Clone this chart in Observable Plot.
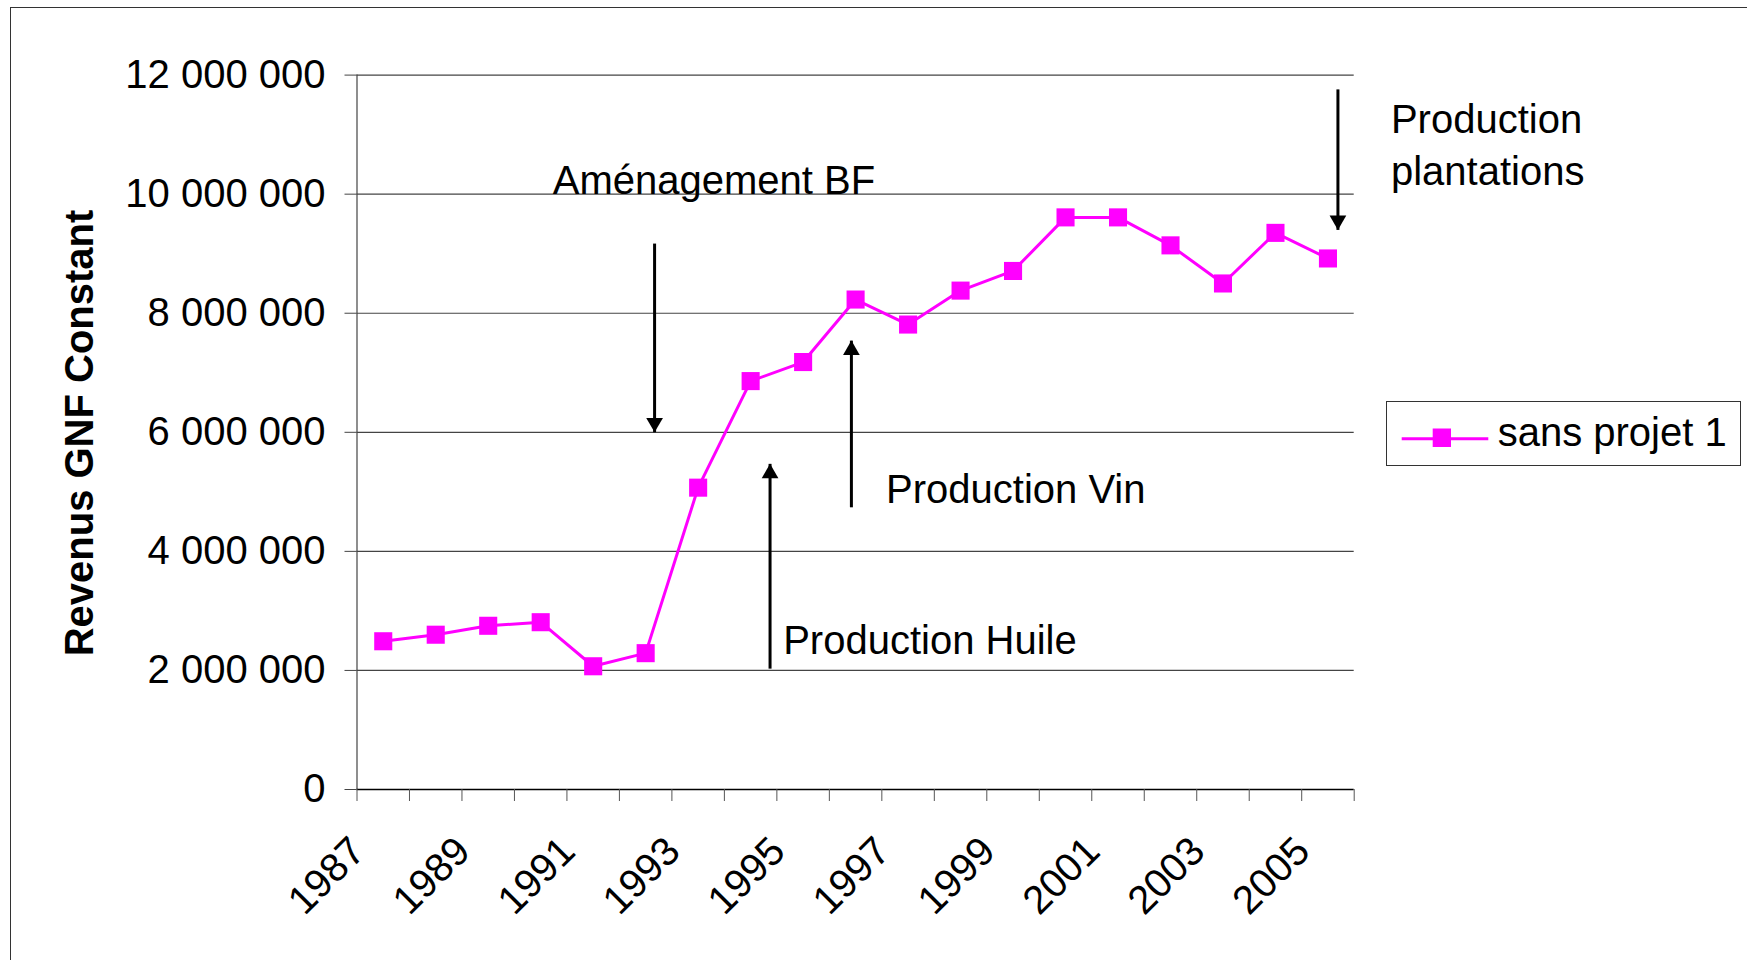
<!DOCTYPE html>
<html>
<head>
<meta charset="utf-8">
<script src="https://cdn.jsdelivr.net/npm/d3@7"></script>
<script src="https://cdn.jsdelivr.net/npm/@observablehq/plot@0.6"></script>
<style>
html, body { margin: 0; padding: 0; background: #fff; }
#wrap { position: relative; width: 1747px; height: 960px; overflow: hidden; font-family: "Liberation Sans", Arial, sans-serif; }
#frame { position: absolute; left: 10px; top: 7px; width: 2000px; height: 2000px; border-left: 1.5px solid #333; border-top: 1.5px solid #333; }
#chart { position: absolute; left: 0; top: 0; }
#ytitle { position: absolute; left: 79px; top: 433px; transform: translate(-50%, -50%) rotate(-90deg); font-weight: bold; font-size: 40px; white-space: nowrap; color: #000; }
#legend { position: absolute; left: 1386px; top: 401px; width: 355px; height: 65px; box-sizing: border-box; border: 1.3px solid #333; background: #fff; }
#legend svg { position: absolute; left: 0; top: 0; }
</style>
</head>
<body>
<div id="wrap">
  <div id="frame"></div>
  <div id="chart"></div>
  <div id="ytitle">Revenus GNF Constant</div>
  <div id="legend"></div>
</div>
<script>
// ---- Data ----
const years = [1987, 1988, 1989, 1990, 1991, 1992, 1993, 1994, 1995, 1996, 1997, 1998, 1999, 2000, 2001, 2002, 2003, 2004, 2005];
const revenus = [2490000, 2600000, 2750000, 2810000, 2070000, 2290000, 5070000, 6860000, 7180000, 8230000, 7810000, 8380000, 8710000, 9610000, 9610000, 9140000, 8500000, 9350000, 8920000];
const seriesName = "sans projet 1";
const yTicks = [0, 2000000, 4000000, 6000000, 8000000, 10000000, 12000000];
const yearLabels = [1987, 1989, 1991, 1993, 1995, 1997, 1999, 2001, 2003, 2005];

// annotations (data coordinates)
const noteTexts = ["Aménagement BF", "Production Huile", "Production Vin", "Production\nplantations"];
const noteX = [1990.23, 1994.62, 1996.58, 2006.2];
const noteY = [10200000, 2480000, 5010000, 10800000];

const arrowX = [1992.17, 1994.37, 1995.92, 2005.19];
const arrowFrom = [9170000, 2030000, 4740000, 11760000];
const arrowTo = [6000000, 5470000, 7540000, 9400000];

// ---- Build tables ----
const series = years.map((y, i) => ({year: y, value: revenus[i]}));
const xDomain = [years[0] - 0.5, years[years.length - 1] + 0.5];
const bandEdges = years.map(y => y - 0.5).concat([years[years.length - 1] + 0.5]);
const notes = noteTexts.map((t, i) => ({text: t, x: noteX[i], y: noteY[i]}));
const arrows = arrowX.map((x, i) => ({x, y1: arrowFrom[i], y2: arrowTo[i], down: arrowTo[i] < arrowFrom[i]}));

const fmt = d => d3.format(",")(d).replace(/,/g, " ");
const MAG = "#FF00FF";

const chart = Plot.plot({
  width: 1747,
  height: 960,
  marginLeft: 356.5,
  marginRight: 393.3,
  marginTop: 74.6,
  marginBottom: 171,
  style: {fontFamily: "'Liberation Sans', Arial, sans-serif", fontSize: "40px", background: "transparent", overflow: "visible", color: "#000"},
  x: {domain: xDomain, label: null},
  y: {domain: [0, 12000000], label: null},
  marks: [
    Plot.gridY(yTicks.filter(v => v > 0), {stroke: "#444", strokeOpacity: 1, strokeWidth: 1.2}),
    Plot.ruleX([xDomain[0]], {stroke: "#444", strokeWidth: 1.2}),
    Plot.ruleY([0], {stroke: "#000", strokeWidth: 1.5}),
    Plot.axisY(yTicks, {tickSize: 12, tickPadding: 19.5, fontSize: 40, tickFormat: fmt, label: null, stroke: "#444"}),
    Plot.axisX(bandEdges, {tickSize: 12, tickFormat: () => "", label: null, stroke: "#555"}),
    Plot.axisX(yearLabels, {tickSize: 0, tickRotate: -45, tickPadding: 55, dx: -25, fontSize: 40, tickFormat: "d", label: null}),
    Plot.line(series, {x: "year", y: "value", stroke: MAG, strokeWidth: 3}),
    Plot.dot(series, {x: "year", y: "value", symbol: "square", r: 10.2, fill: MAG, stroke: "none"}),
    Plot.link(arrows, {x1: "x", x2: "x", y1: "y1", y2: "y2", stroke: "#000", strokeWidth: 3}),
    Plot.dot(arrows.filter(d => d.down), {x: "x", y: "y2", symbol: "triangle", r: 6.2, rotate: 180, dy: -9.6, fill: "#000", stroke: "none"}),
    Plot.dot(arrows.filter(d => !d.down), {x: "x", y: "y2", symbol: "triangle", r: 6.2, dy: 9.6, fill: "#000", stroke: "none"}),
    Plot.text(notes, {x: "x", y: "y", text: "text", textAnchor: "start", lineAnchor: "middle", lineHeight: 1.3, fontSize: 40, fill: "#000", dy: -4.5})
  ]
});
document.getElementById("chart").appendChild(chart);

// ---- Legend ----
const lg = d3.select("#legend").append("svg").attr("width", 355).attr("height", 65);
lg.append("line").attr("x1", 14.7).attr("x2", 101.3).attr("y1", 36.7).attr("y2", 36.7).attr("stroke", MAG).attr("stroke-width", 3);
lg.append("rect").attr("x", 45.7).attr("y", 26.5).attr("width", 18.3).attr("height", 18.5).attr("fill", MAG);
lg.append("text").attr("x", 110.7).attr("y", 44).attr("font-size", 40).attr("font-family", "'Liberation Sans', Arial, sans-serif").attr("fill", "#000").text(seriesName);
</script>
</body>
</html>
